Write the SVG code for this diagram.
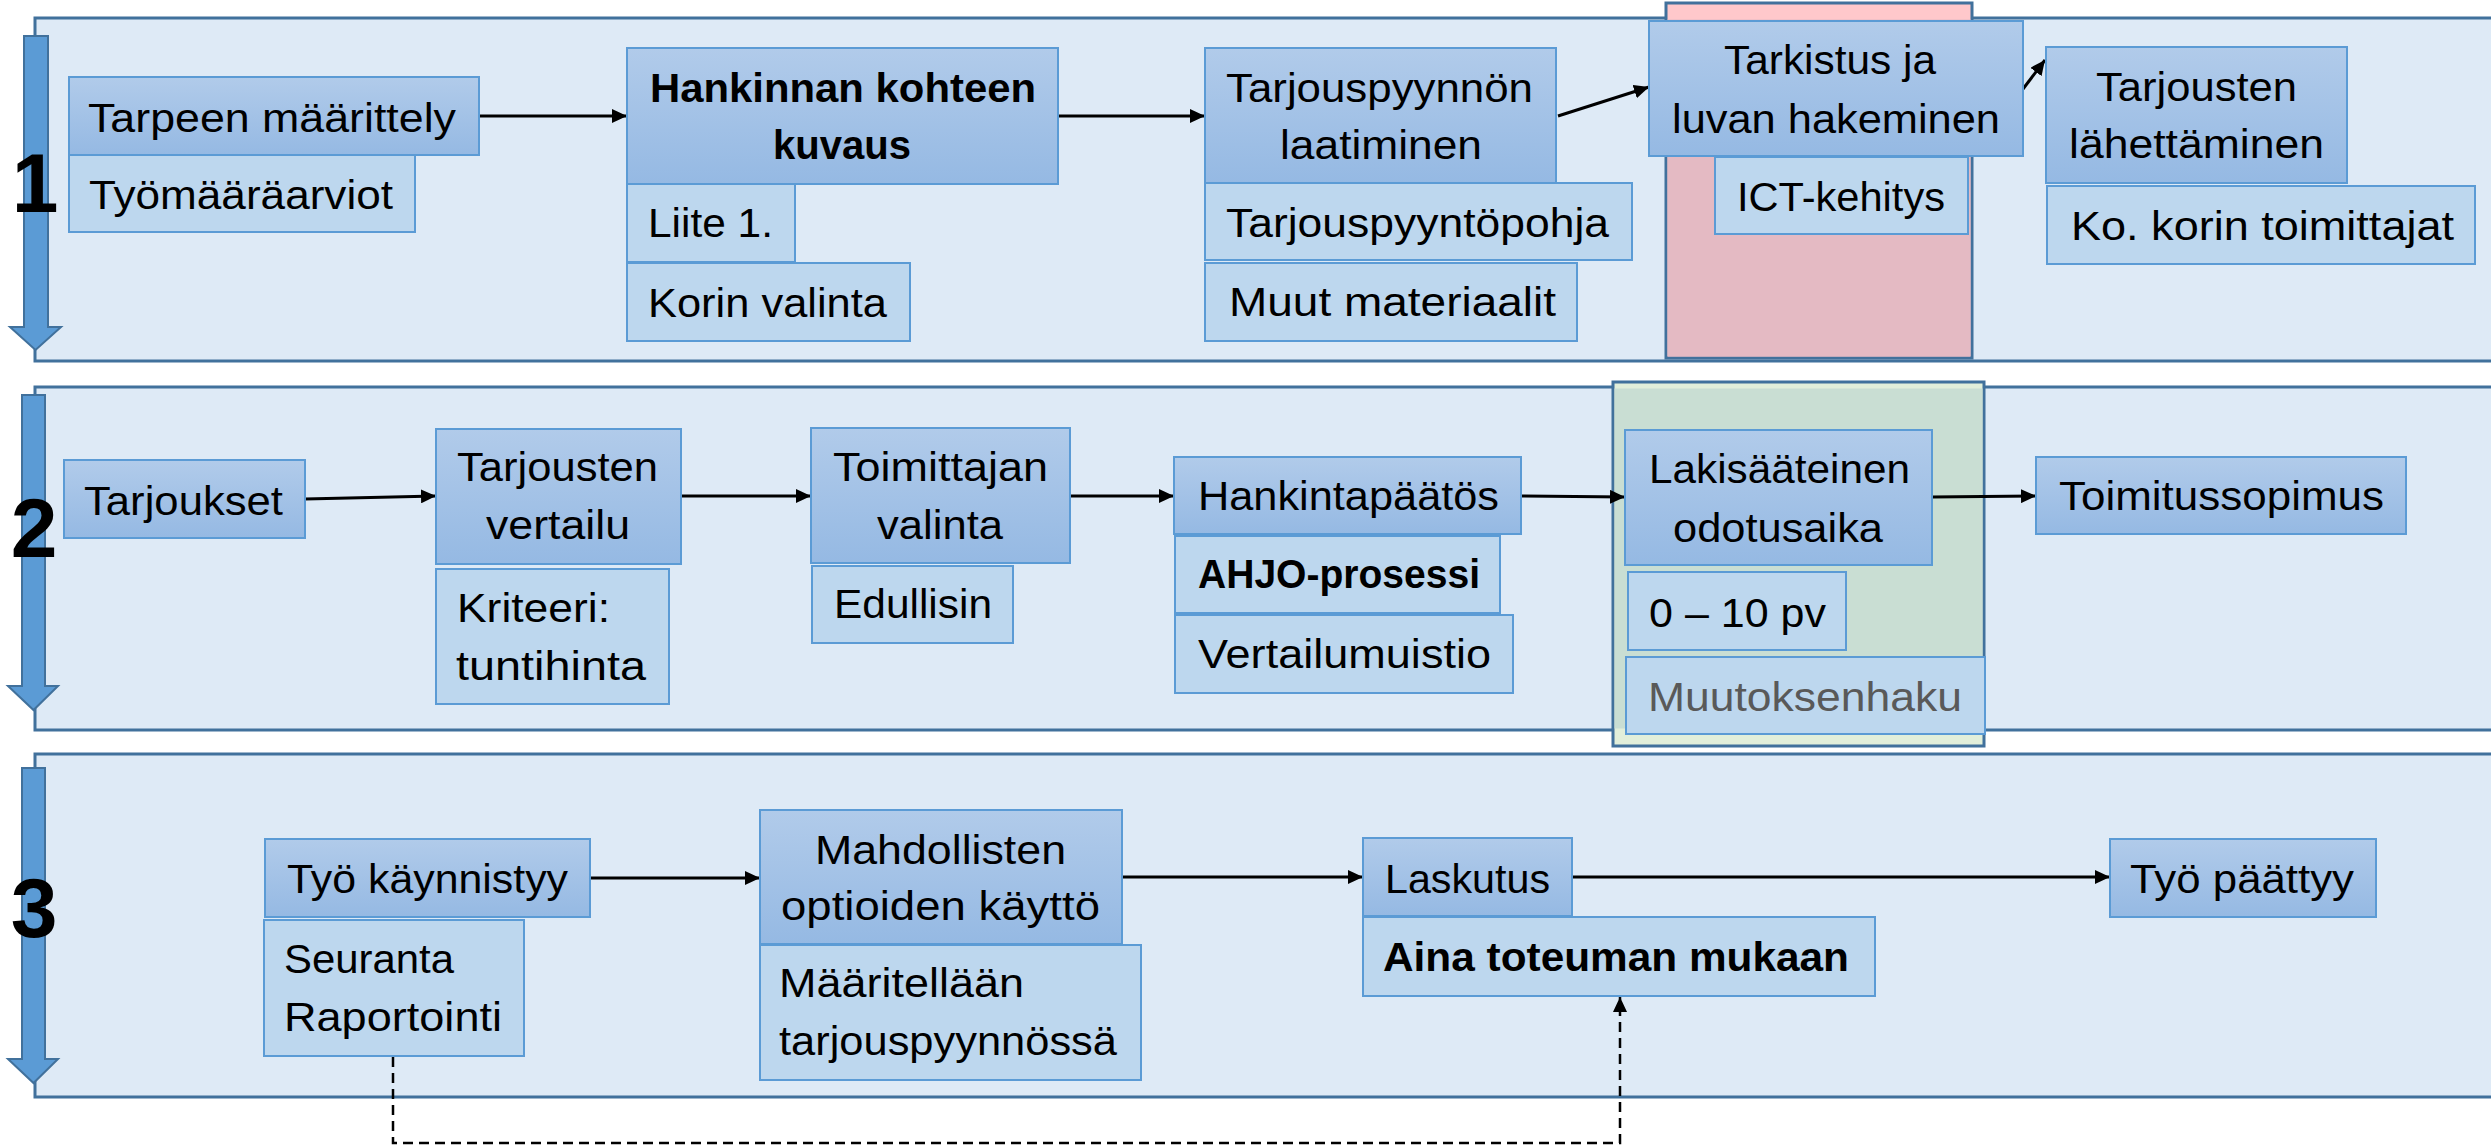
<svg xmlns="http://www.w3.org/2000/svg" width="2491" height="1146" viewBox="0 0 2491 1146">
<style>
.panel{fill:#DEEAF6;stroke:#41719C;stroke-width:3}
.dark{fill:url(#gd);stroke:#5B9BD5;stroke-width:2}
.light{fill:#BDD7EE;stroke:#5B9BD5;stroke-width:2}
.hl{stroke:#41719C;stroke-width:3}
.barrow{fill:#5B9BD5;stroke:#41719C;stroke-width:2}
.t{font-family:"Liberation Sans",Arial,sans-serif;font-size:41px;fill:#000}
.b{font-weight:bold}
.g{fill:#595959}
.num{font-family:"Liberation Sans",Arial,sans-serif;font-size:84px;font-weight:bold;fill:#000;text-anchor:middle}
.conn{stroke:#000;stroke-width:3;fill:none;marker-end:url(#ah)}
.dash{stroke:#000;stroke-width:2.5;fill:none;stroke-dasharray:10 6;marker-end:url(#ah)}
</style>
<defs>
<linearGradient id="gd" x1="0" y1="0" x2="0" y2="1">
<stop offset="0" stop-color="#B1CBEA"/>
<stop offset="1" stop-color="#95B9E3"/>
</linearGradient>
<marker id="ah" markerUnits="userSpaceOnUse" markerWidth="16" markerHeight="14" refX="15" refY="7" orient="auto">
<path d="M0,0 L15,7 L0,14 z" fill="#000"/>
</marker>
</defs>
<rect width="2491" height="1146" fill="#fff"/>

<g id="panels">
<rect class="panel" x="35" y="18" width="2470" height="343"/>
<rect class="panel" x="35" y="387" width="2470" height="343"/>
<rect class="panel" x="35" y="754" width="2470" height="343"/>
</g>

<g id="highlights">
<rect class="hl" x="1666" y="3" width="306" height="355" fill="#FFC8CB"/>
<rect x="1667.5" y="19.5" width="303" height="337" fill="#E4BAC3"/>
<rect class="hl" x="1613" y="382" width="371" height="364" fill="#E2EFDA"/>
<rect x="1614.5" y="388.5" width="368" height="340" fill="#C9DED3"/>
</g>

<g id="phase-arrows">
<path class="barrow" d="M24,36 H48 V327 H61 L35.5,350 L10,327 H24 Z"/>
<path class="barrow" d="M22,395 H45 V686 H58 L33.5,710 L8,686 H22 Z"/>
<path class="barrow" d="M22,768 H45 V1059 H58 L33.5,1083 L8,1059 H22 Z"/>
<text class="num" x="35" y="212">1</text>
<text class="num" x="34" y="557">2</text>
<text class="num" x="34" y="937">3</text>
</g>

<g id="connectors">
<line class="conn" x1="479" y1="116" x2="627" y2="116"/>
<line class="conn" x1="1058" y1="116" x2="1205" y2="116"/>
<line class="conn" x1="1558" y1="116" x2="1649" y2="87"/>
<line class="conn" x1="2023" y1="89" x2="2045" y2="60"/>
<line class="conn" x1="305" y1="499" x2="436" y2="496"/>
<line class="conn" x1="681" y1="496" x2="811" y2="496"/>
<line class="conn" x1="1070" y1="496" x2="1174" y2="496"/>
<line class="conn" x1="1521" y1="496" x2="1625" y2="497"/>
<line class="conn" x1="1932" y1="497" x2="2036" y2="496"/>
<line class="conn" x1="590" y1="878" x2="760" y2="878"/>
<line class="conn" x1="1122" y1="877" x2="1363" y2="877"/>
<line class="conn" x1="1572" y1="877" x2="2110" y2="877"/>
<path class="dash" d="M393,1057 V1143 H1620 V997"/>
</g>

<g id="n-tarve"><rect class="dark" x="69" y="77" width="410" height="78"/><text class="t" x="88" y="132" textLength="368" lengthAdjust="spacingAndGlyphs">Tarpeen määrittely</text></g>
<g id="n-tyomaara"><rect class="light" x="69" y="155" width="346" height="77"/><text class="t" x="89" y="209" textLength="304" lengthAdjust="spacingAndGlyphs">Työmääräarviot</text></g>
<g id="n-hankinta"><rect class="dark" x="627" y="48" width="431" height="136"/><text class="t b" x="650" y="102" textLength="386" lengthAdjust="spacingAndGlyphs">Hankinnan kohteen</text><text class="t b" x="773" y="159" textLength="138" lengthAdjust="spacingAndGlyphs">kuvaus</text></g>
<g id="n-liite"><rect class="light" x="627" y="184" width="168" height="78"/><text class="t" x="648" y="237" textLength="125" lengthAdjust="spacingAndGlyphs">Liite 1.</text></g>
<g id="n-kori"><rect class="light" x="627" y="263" width="283" height="78"/><text class="t" x="648" y="317" textLength="239" lengthAdjust="spacingAndGlyphs">Korin valinta</text></g>
<g id="n-tarjouspyynto"><rect class="dark" x="1205" y="48" width="351" height="135"/><text class="t" x="1226" y="102" textLength="307" lengthAdjust="spacingAndGlyphs">Tarjouspyynnön</text><text class="t" x="1280" y="159" textLength="202" lengthAdjust="spacingAndGlyphs">laatiminen</text></g>
<g id="n-pohja"><rect class="light" x="1205" y="183" width="427" height="77"/><text class="t" x="1226" y="237" textLength="383" lengthAdjust="spacingAndGlyphs">Tarjouspyyntöpohja</text></g>
<g id="n-muut"><rect class="light" x="1205" y="263" width="372" height="78"/><text class="t" x="1229" y="316" textLength="327" lengthAdjust="spacingAndGlyphs">Muut materiaalit</text></g>
<g id="n-tarkistus"><rect class="dark" x="1649" y="21" width="374" height="135"/><text class="t" x="1724" y="74" textLength="212" lengthAdjust="spacingAndGlyphs">Tarkistus ja</text><text class="t" x="1672" y="133" textLength="328" lengthAdjust="spacingAndGlyphs">luvan hakeminen</text></g>
<g id="n-ict"><rect class="light" x="1715" y="157" width="253" height="77"/><text class="t" x="1737" y="211" textLength="208" lengthAdjust="spacingAndGlyphs">ICT-kehitys</text></g>
<g id="n-lahetys"><rect class="dark" x="2046" y="47" width="301" height="136"/><text class="t" x="2096" y="101" textLength="201" lengthAdjust="spacingAndGlyphs">Tarjousten</text><text class="t" x="2069" y="158" textLength="255" lengthAdjust="spacingAndGlyphs">lähettäminen</text></g>
<g id="n-ko"><rect class="light" x="2047" y="186" width="428" height="78"/><text class="t" x="2071" y="240" textLength="383" lengthAdjust="spacingAndGlyphs">Ko. korin toimittajat</text></g>

<g id="n-tarjoukset"><rect class="dark" x="64" y="460" width="241" height="78"/><text class="t" x="84" y="515" textLength="199" lengthAdjust="spacingAndGlyphs">Tarjoukset</text></g>
<g id="n-vertailu"><rect class="dark" x="436" y="429" width="245" height="135"/><text class="t" x="457" y="481" textLength="201" lengthAdjust="spacingAndGlyphs">Tarjousten</text><text class="t" x="486" y="539" textLength="144" lengthAdjust="spacingAndGlyphs">vertailu</text></g>
<g id="n-kriteeri"><rect class="light" x="436" y="569" width="233" height="135"/><text class="t" x="457" y="622" textLength="153" lengthAdjust="spacingAndGlyphs">Kriteeri:</text><text class="t" x="456" y="680" textLength="190" lengthAdjust="spacingAndGlyphs">tuntihinta</text></g>
<g id="n-valinta"><rect class="dark" x="811" y="428" width="259" height="135"/><text class="t" x="833" y="481" textLength="215" lengthAdjust="spacingAndGlyphs">Toimittajan</text><text class="t" x="877" y="539" textLength="126" lengthAdjust="spacingAndGlyphs">valinta</text></g>
<g id="n-edullisin"><rect class="light" x="812" y="566" width="201" height="77"/><text class="t" x="834" y="618" textLength="158" lengthAdjust="spacingAndGlyphs">Edullisin</text></g>
<g id="n-paatos"><rect class="dark" x="1174" y="457" width="347" height="77"/><text class="t" x="1198" y="510" textLength="301" lengthAdjust="spacingAndGlyphs">Hankintapäätös</text></g>
<g id="n-ahjo"><rect class="light" x="1175" y="536" width="325" height="77"/><text class="t b" x="1198" y="588" textLength="282" lengthAdjust="spacingAndGlyphs">AHJO-prosessi</text></g>
<g id="n-muistio"><rect class="light" x="1175" y="615" width="338" height="78"/><text class="t" x="1198" y="668" textLength="293" lengthAdjust="spacingAndGlyphs">Vertailumuistio</text></g>
<g id="n-odotus"><rect class="dark" x="1625" y="430" width="307" height="135"/><text class="t" x="1649" y="483" textLength="261" lengthAdjust="spacingAndGlyphs">Lakisääteinen</text><text class="t" x="1673" y="542" textLength="210" lengthAdjust="spacingAndGlyphs">odotusaika</text></g>
<g id="n-pv"><rect class="light" x="1628" y="572" width="218" height="78"/><text class="t" x="1649" y="627" textLength="177" lengthAdjust="spacingAndGlyphs">0 – 10 pv</text></g>
<g id="n-muutos"><rect class="light" x="1626" y="657" width="359" height="77"/><text class="t g" x="1648" y="711" textLength="314" lengthAdjust="spacingAndGlyphs">Muutoksenhaku</text></g>
<g id="n-sopimus"><rect class="dark" x="2036" y="457" width="370" height="77"/><text class="t" x="2059" y="510" textLength="325" lengthAdjust="spacingAndGlyphs">Toimitussopimus</text></g>

<g id="n-kaynnistyy"><rect class="dark" x="265" y="839" width="325" height="78"/><text class="t" x="287" y="893" textLength="281" lengthAdjust="spacingAndGlyphs">Työ käynnistyy</text></g>
<g id="n-seuranta"><rect class="light" x="264" y="920" width="260" height="136"/><text class="t" x="284" y="973" textLength="170" lengthAdjust="spacingAndGlyphs">Seuranta</text><text class="t" x="284" y="1031" textLength="218" lengthAdjust="spacingAndGlyphs">Raportointi</text></g>
<g id="n-optiot"><rect class="dark" x="760" y="810" width="362" height="134"/><text class="t" x="815" y="864" textLength="251" lengthAdjust="spacingAndGlyphs">Mahdollisten</text><text class="t" x="781" y="920" textLength="319" lengthAdjust="spacingAndGlyphs">optioiden käyttö</text></g>
<g id="n-maaritellaan"><rect class="light" x="760" y="945" width="381" height="135"/><text class="t" x="779" y="997" textLength="245" lengthAdjust="spacingAndGlyphs">Määritellään</text><text class="t" x="779" y="1055" textLength="338" lengthAdjust="spacingAndGlyphs">tarjouspyynnössä</text></g>
<g id="n-laskutus"><rect class="dark" x="1363" y="838" width="209" height="78"/><text class="t" x="1385" y="893" textLength="165" lengthAdjust="spacingAndGlyphs">Laskutus</text></g>
<g id="n-aina"><rect class="light" x="1363" y="917" width="512" height="79"/><text class="t b" x="1383" y="971" textLength="466" lengthAdjust="spacingAndGlyphs">Aina toteuman mukaan</text></g>
<g id="n-paattyy"><rect class="dark" x="2110" y="839" width="266" height="78"/><text class="t" x="2130" y="893" textLength="224" lengthAdjust="spacingAndGlyphs">Työ päättyy</text></g>
</svg>
